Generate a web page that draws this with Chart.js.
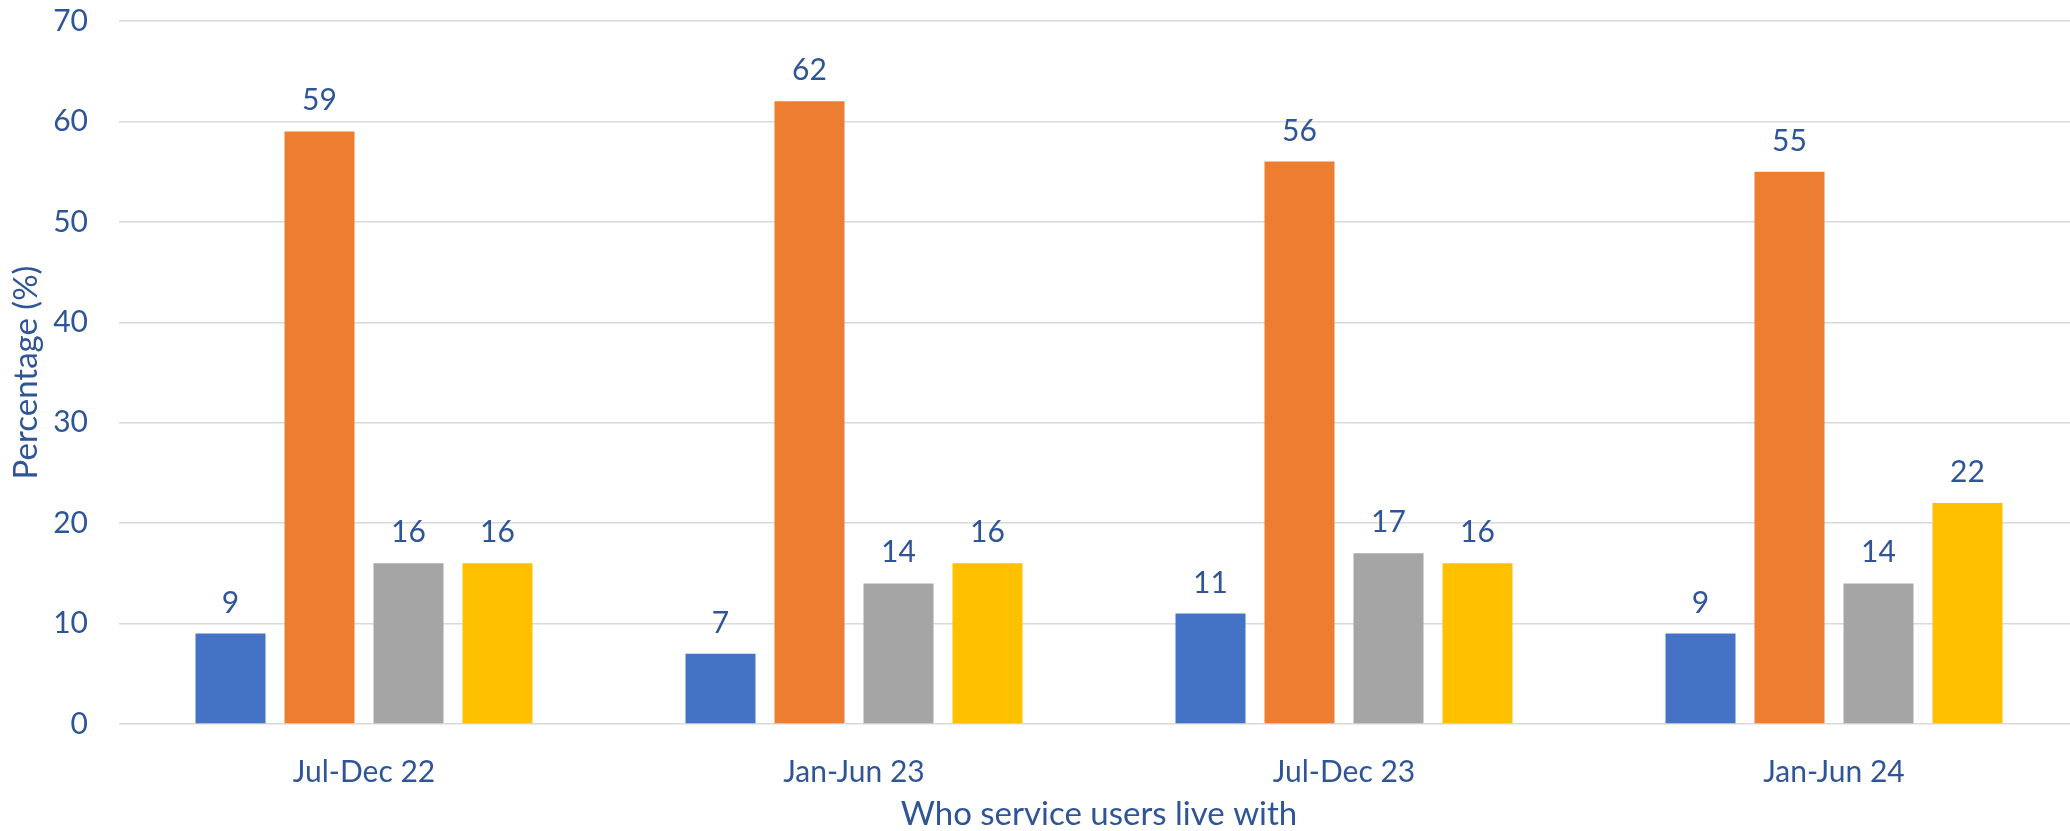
<!DOCTYPE html>
<html>
<head>
<meta charset="utf-8">
<script src="https://cdn.jsdelivr.net/npm/chart.js@4/dist/chart.umd.min.js"></script>
<style>
  html, body { margin: 0; padding: 0; background: #fff; overflow: hidden; }
  #wrap { width: 2080px; height: 831px; position: relative; }
</style>
</head>
<body>
<div id="wrap"><canvas id="whoChart"></canvas></div>
<script>
// Datos
const periods = ["Jul-Dec 22", "Jan-Jun 23", "Jul-Dec 23", "Jan-Jun 24"];
const series1 = [9, 7, 11, 9];
const series2 = [59, 62, 56, 55];
const series3 = [16, 14, 17, 14];
const series4 = [16, 16, 16, 22];
const yTicks = [0, 10, 20, 30, 40, 50, 60, 70];

const textColor = "#2F5597";
const fontFamily = "Lato, 'Open Sans', sans-serif";

// Etiquetas de valor encima de cada barra
const valueLabels = {
  id: "valueLabels",
  afterDatasetsDraw(chart) {
    const ctx = chart.ctx;
    ctx.save();
    ctx.fillStyle = textColor;
    ctx.font = "30px " + fontFamily;
    ctx.textAlign = "center";
    ctx.textBaseline = "alphabetic";
    chart.data.datasets.forEach((ds, i) => {
      const meta = chart.getDatasetMeta(i);
      meta.data.forEach((bar, j) => {
        ctx.fillText(String(ds.data[j]), bar.x, bar.y - 21);
      });
    });
    ctx.restore();
  },
};

const ctx = document.getElementById("whoChart").getContext("2d");

new Chart(ctx, {
  type: "bar",
  data: {
    labels: periods,
    datasets: [
      { label: "Series 1", data: series1, backgroundColor: "#4472C4" },
      { label: "Series 2", data: series2, backgroundColor: "#ED7D31" },
      { label: "Series 3", data: series3, backgroundColor: "#A5A5A5" },
      { label: "Series 4", data: series4, backgroundColor: "#FFC000" },
    ],
  },
  options: {
    responsive: true,
    maintainAspectRatio: false,
    animation: false,
    layout: { padding: { top: 21, right: 1, bottom: 0, left: 0 } },
    datasets: {
      bar: {
        categoryPercentage: 0.7265,
        barPercentage: 0.7865,
      },
    },
    plugins: {
      legend: { display: false },
      tooltip: { enabled: false },
    },
    scales: {
      x: {
        grid: { display: false },
        border: { display: false },
        ticks: {
          color: textColor,
          font: { family: fontFamily, size: 30 },
          padding: 22,
        },
        title: {
          display: true,
          text: "Who service users live with",
          color: textColor,
          font: { family: fontFamily, size: 33, lineHeight: 1 },
          padding: { top: 0, bottom: 0 },
        },
        afterFit: (scale) => { scale.height = 107; },
      },
      y: {
        min: 0,
        max: 70,
        afterBuildTicks: (scale) => {
          scale.ticks = yTicks.map((v) => ({ value: v }));
        },
        grid: {
          color: "#D9D9D9",
          lineWidth: 1.5,
          drawTicks: false,
        },
        border: { display: false },
        ticks: {
          color: textColor,
          font: { family: fontFamily, size: 30 },
          padding: 31,
        },
        title: {
          display: true,
          text: "Percentage (%)",
          color: textColor,
          font: { family: fontFamily, size: 33 },
          padding: { top: 7, bottom: 0 },
        },
        afterFit: (scale) => {
          scale.width = 119;
          scale.paddingTop = 0;
          scale.paddingBottom = 0;
        },
      },
    },
  },
  plugins: [valueLabels],
});
</script>
</body>
</html>
